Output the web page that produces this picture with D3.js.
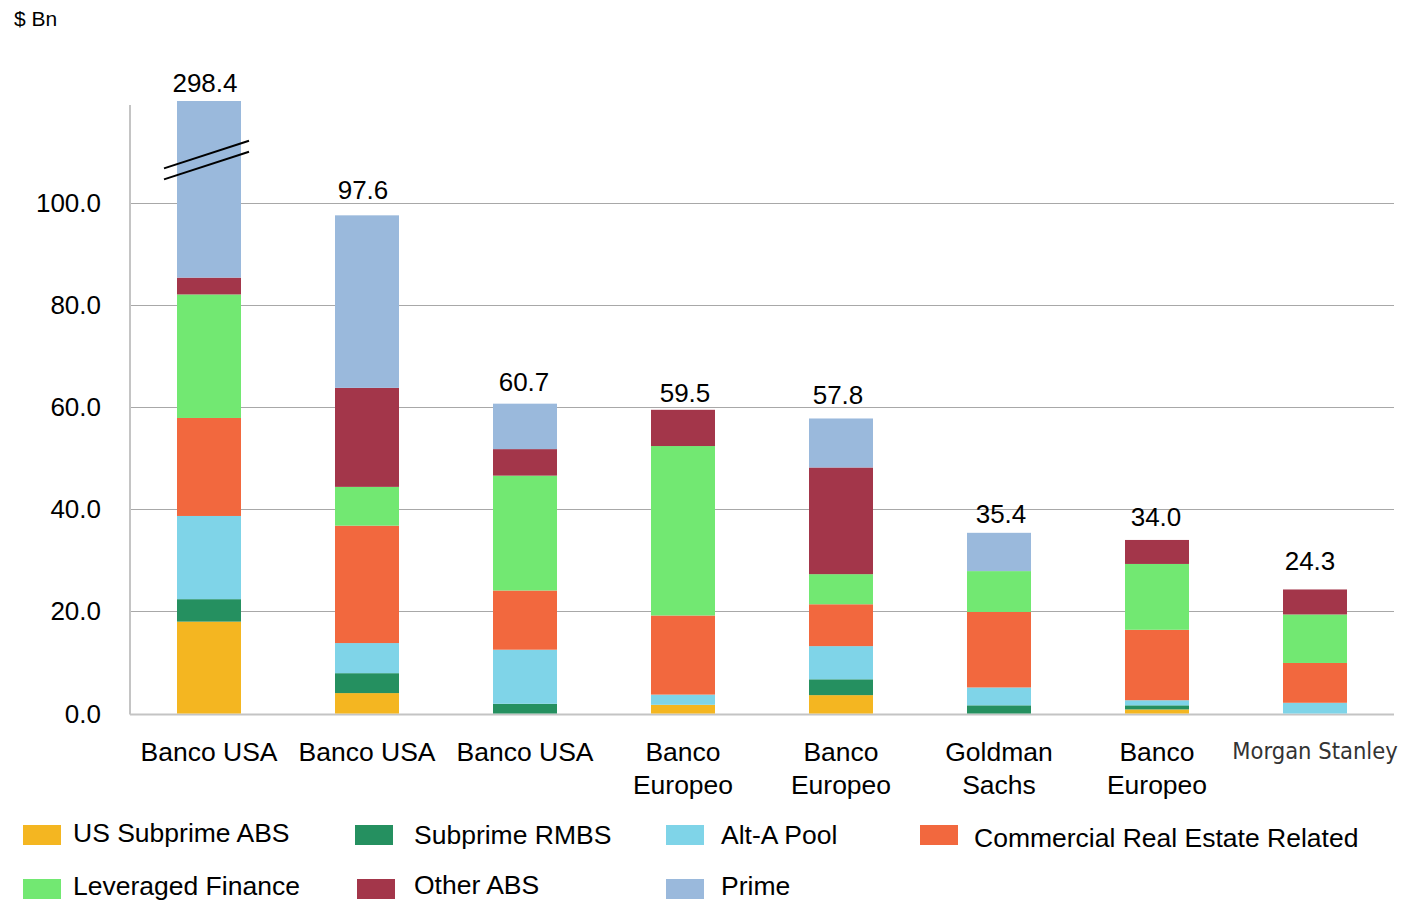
<!DOCTYPE html>
<html>
<head>
<meta charset="utf-8">
<script src="https://cdn.jsdelivr.net/npm/d3@7"></script>
<style>
  body { margin: 0; background: #fff; }
  svg text { font-family: "Liberation Sans", Arial, sans-serif; fill: #000; }
</style>
</head>
<body>
<div id="okvir"></div>
<script>
// podaci ($ Bn)
const banke = ["Banco USA", "Banco USA", "Banco USA", "Banco Europeo", "Banco Europeo", "Goldman Sachs", "Banco Europeo", "Morgan Stanley"]
const oznakeBanaka = [["Banco USA"], ["Banco USA"], ["Banco USA"], ["Banco", "Europeo"], ["Banco", "Europeo"], ["Goldman", "Sachs"], ["Banco", "Europeo"], ["Morgan Stanley"]]
const ukupno = [298.4, 97.6, 60.7, 59.5, 57.8, 35.4, 34.0, 24.3]

const serije = ["US Subprime ABS", "Subprime RMBS", "Alt-A Pool", "Commercial Real Estate Related", "Leveraged Finance", "Other ABS", "Prime"]
const usSubprime   = [18.0, 4.0, 0.0, 1.7, 3.6, 0.0, 0.8, 0.0]
const subprimeRmbs = [4.4, 3.9, 1.9, 0.0, 3.1, 1.6, 0.8, 0.0]
const altA         = [16.3, 5.9, 10.6, 2.0, 6.5, 3.5, 1.0, 2.1]
const komercijalne = [19.2, 23.0, 11.6, 15.5, 8.2, 14.8, 13.8, 7.8]
const leveraged    = [24.2, 7.6, 22.5, 33.2, 5.9, 8.0, 12.9, 9.5]
const ostaliAbs    = [3.3, 19.4, 5.2, 7.1, 20.9, 0.0, 4.7, 4.9]
const prime        = [213.0, 33.8, 8.9, 0.0, 9.6, 7.5, 0.0, 0.0]
const boje = ["#F4B621", "#259060", "#7FD4E8", "#F2683E", "#72E872", "#A3364A", "#9AB9DC"]

const yTickovi = [0, 20, 40, 60, 80, 100]
const maxPrikaz = 120   // prvi stupac je prekinut na ovoj vrijednosti

// pomaci oznaka ukupnih vrijednosti (kao u originalu, nisu bas poravnate)
const pomakOznakeX = [-4, -4, -1, 2, -3, 2, -1, -5]
const pomakOznakeY = [-9, -16, -13, -8, -14, -10, -14, -19]

const vrijednosti = [usSubprime, subprimeRmbs, altA, komercijalne, leveraged, ostaliAbs, prime]
const tablica = banke.map((b, i) => {
  const red = { i: i }
  serije.forEach((s, j) => red[s] = vrijednosti[j][i])
  return red
})

const dim = { sirina: 1417, visina: 901 }
const velicinaFonta = "26.5px"

const svg = d3.select("#okvir").append("svg")
  .attr("width", dim.sirina)
  .attr("height", dim.visina)

const x = d3.scaleBand()
  .domain(d3.range(banke.length))
  .range([130, 1394])
  .paddingInner(0.595)
  .paddingOuter(0.2975)

const y = d3.scaleLinear()
  .domain([0, maxPrikaz])
  .range([713.5, 101])

// mreza
svg.append("g")
  .selectAll("line")
  .data(yTickovi)
  .join("line")
    .attr("x1", 130)
    .attr("x2", 1394)
    .attr("y1", d => Math.round(y(d)) + 0.5)
    .attr("y2", d => Math.round(y(d)) + 0.5)
    .attr("stroke", d => d === 0 ? "#c4c4c4" : "#a8a8a8")
    .attr("stroke-width", d => d === 0 ? 2 : 1)

svg.append("line")
  .attr("x1", 130).attr("x2", 130)
  .attr("y1", y(119.2)).attr("y2", y(0) + 1)
  .attr("stroke", "#c4c4c4")
  .attr("stroke-width", 2)

svg.append("g")
  .selectAll("text")
  .data(yTickovi)
  .join("text")
    .attr("x", 101)
    .attr("y", d => y(d) + 9)
    .attr("text-anchor", "end")
    .style("font-size", "26px")
    .text(d => d.toFixed(1))

// stupci
const stog = d3.stack().keys(serije)(tablica)

svg.append("g")
  .selectAll("g")
  .data(stog)
  .join("g")
    .attr("fill", (d, i) => boje[i])
  .selectAll("rect")
  .data(d => d)
  .join("rect")
    .attr("x", d => x(d.data.i))
    .attr("width", x.bandwidth())
    .attr("y", d => y(Math.min(d[1], maxPrikaz)))
    .attr("height", d => Math.max(0, y(Math.min(d[0], maxPrikaz)) - y(Math.min(d[1], maxPrikaz))))

// oznaka prekida na prvom stupcu
const prekid = svg.append("g")
const x0 = x(0) - 13, x1 = x(0) + x.bandwidth() + 8
;[0, 11].forEach(pomak => {
  prekid.append("line")
    .attr("x1", x0).attr("y1", y(106.8) + pomak)
    .attr("x2", x1).attr("y2", y(112.2) + pomak)
    .attr("stroke", "#000")
    .attr("stroke-width", 2)
})

// ukupne vrijednosti
svg.append("g")
  .selectAll("text")
  .data(ukupno)
  .join("text")
    .attr("x", (d, i) => x(i) + x.bandwidth() / 2 + pomakOznakeX[i])
    .attr("y", (d, i) => y(Math.min(d, maxPrikaz)) + pomakOznakeY[i])
    .attr("text-anchor", "middle")
    .style("font-size", "26px")
    .text(d => d.toFixed(1))

// kategorije
const kategorije = svg.append("g")
oznakeBanaka.forEach((linije, i) => {
  const t = kategorije.append("text")
    .attr("x", x(i) + x.bandwidth() / 2)
    .attr("y", 761)
    .attr("text-anchor", "middle")
    .style("font-size", velicinaFonta)
  if (banke[i] === "Morgan Stanley") {
    t.style("font-family", "'Liberation Sans Narrow', 'DejaVu Sans Condensed', sans-serif")
      .style("font-size", "23.5px")
      .style("fill", "#333")
      .attr("y", 759)
  }
  linije.forEach((l, k) => {
    t.append("tspan")
      .attr("x", x(i) + x.bandwidth() / 2)
      .attr("dy", k === 0 ? 0 : 33)
      .text(l)
  })
})

svg.append("text")
  .attr("x", 14)
  .attr("y", 26)
  .style("font-size", "21px")
  .text("$ Bn")

// legenda
const legenda = [
  { s: 0, x: 23, tx: 73, y: 825, ty: 842 },
  { s: 1, x: 355, tx: 414, y: 825, ty: 844 },
  { s: 2, x: 666, tx: 721, y: 825, ty: 844 },
  { s: 3, x: 920, tx: 974, y: 825, ty: 847 },
  { s: 4, x: 23, tx: 73, y: 879, ty: 895 },
  { s: 5, x: 357, tx: 414, y: 879, ty: 894 },
  { s: 6, x: 666, tx: 721, y: 879, ty: 895 },
]
const leg = svg.append("g")
legenda.forEach(l => {
  leg.append("rect")
    .attr("x", l.x).attr("y", l.y)
    .attr("width", 38).attr("height", 20)
    .attr("fill", boje[l.s])
  leg.append("text")
    .attr("x", l.tx)
    .attr("y", l.ty)
    .style("font-size", velicinaFonta)
    .text(serije[l.s])
})
</script>
</body>
</html>
